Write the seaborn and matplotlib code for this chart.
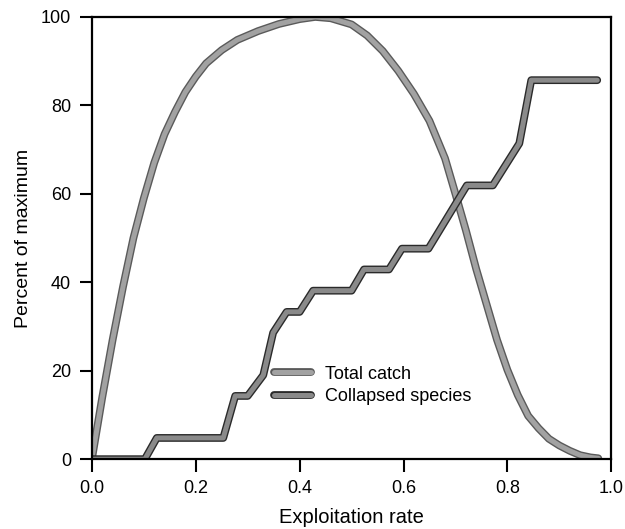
import pandas as pd
import matplotlib
matplotlib.use("Agg")
import matplotlib.pyplot as plt
import matplotlib.patheffects as pe
import seaborn as sns

# 主题和字体
sns.set_style("ticks")
plt.rcParams['font.family'] = ['Liberation Sans', 'DejaVu Sans']
plt.rcParams['font.size'] = 13
plt.rcParams['text.color'] = 'black'
plt.rcParams['axes.labelcolor'] = 'black'

# 数据
catch_x = [0, 0.02, 0.04, 0.06, 0.08, 0.10, 0.12, 0.14, 0.16, 0.18, 0.20, 0.22,
           0.25, 0.28, 0.32, 0.36, 0.40, 0.43, 0.46, 0.50, 0.53, 0.56, 0.59,
           0.62, 0.65, 0.68, 0.70, 0.72, 0.74, 0.76, 0.78, 0.80, 0.82, 0.84,
           0.86, 0.88, 0.90, 0.92, 0.94, 0.96, 0.975]
catch_y = [0, 14, 27, 39, 50, 59, 67, 73.5, 78.5, 83, 86.5, 89.5,
           92.5, 94.8, 96.8, 98.4, 99.5, 100, 99.7, 98.3, 95.8, 92.3, 87.8,
           82.6, 76.5, 68, 60, 51.8, 43, 35, 27, 20.2, 14.5, 9.8,
           7, 4.6, 3.1, 1.9, 0.9, 0.4, 0.2]

collapse_x = [0, 0.102, 0.125, 0.253, 0.276, 0.30, 0.33, 0.349, 0.375, 0.40, 0.426,
              0.50, 0.524, 0.572, 0.597, 0.648, 0.722, 0.772, 0.823, 0.846, 0.973]
collapse_y = [0, 0, 4.8, 4.8, 14.3, 14.3, 19.0, 28.6, 33.3, 33.3, 38.1,
              38.1, 42.9, 42.9, 47.6, 47.6, 61.9, 61.9, 71.4, 85.7, 85.7]

df_catch = pd.DataFrame({"rate": catch_x, "pct": catch_y})
df_collapse = pd.DataFrame({"rate": collapse_x, "pct": collapse_y})

fig = plt.figure(figsize=(6.25, 5.29), dpi=100)
ax = fig.add_axes([0.147, 0.132, 0.831, 0.836])

# 总渔获量曲线
sns.lineplot(data=df_catch, x="rate", y="pct", ax=ax, sort=False,
             color="#a2a2a2", linewidth=3.6, label="Total catch",
             solid_capstyle="round", solid_joinstyle="round",
             path_effects=[pe.Stroke(linewidth=5.6, foreground="#5a5a5a"), pe.Normal()])
# 崩溃物种曲线
sns.lineplot(data=df_collapse, x="rate", y="pct", ax=ax, sort=False,
             color="#8a8a8a", linewidth=3.6, label="Collapsed species",
             solid_capstyle="round", solid_joinstyle="round",
             path_effects=[pe.Stroke(linewidth=5.6, foreground="#2a2a2a"), pe.Normal()])

ax.set_xlim(0, 1.0)
ax.set_ylim(0, 100)
ax.set_xticks([0.0, 0.2, 0.4, 0.6, 0.8, 1.0])
ax.set_xticklabels(["0.0", "0.2", "0.4", "0.6", "0.8", "1.0"])
ax.set_yticks([0, 20, 40, 60, 80, 100])

for s in ax.spines.values():
    s.set_linewidth(1.6)
    s.set_color("black")
ax.tick_params(direction="out", length=9, width=1.5, pad=6, labelsize=13, colors="black")

ax.set_xlabel("Exploitation rate", fontsize=14.5, labelpad=8)
ax.set_ylabel("Percent of maximum", fontsize=14, labelpad=6)

ax.legend(loc="upper left", bbox_to_anchor=(0.32, 0.248), frameon=False,
          handlelength=2.05, labelspacing=0.3, handletextpad=0.75, fontsize=13)

fig.savefig("out.png", dpi=100)
